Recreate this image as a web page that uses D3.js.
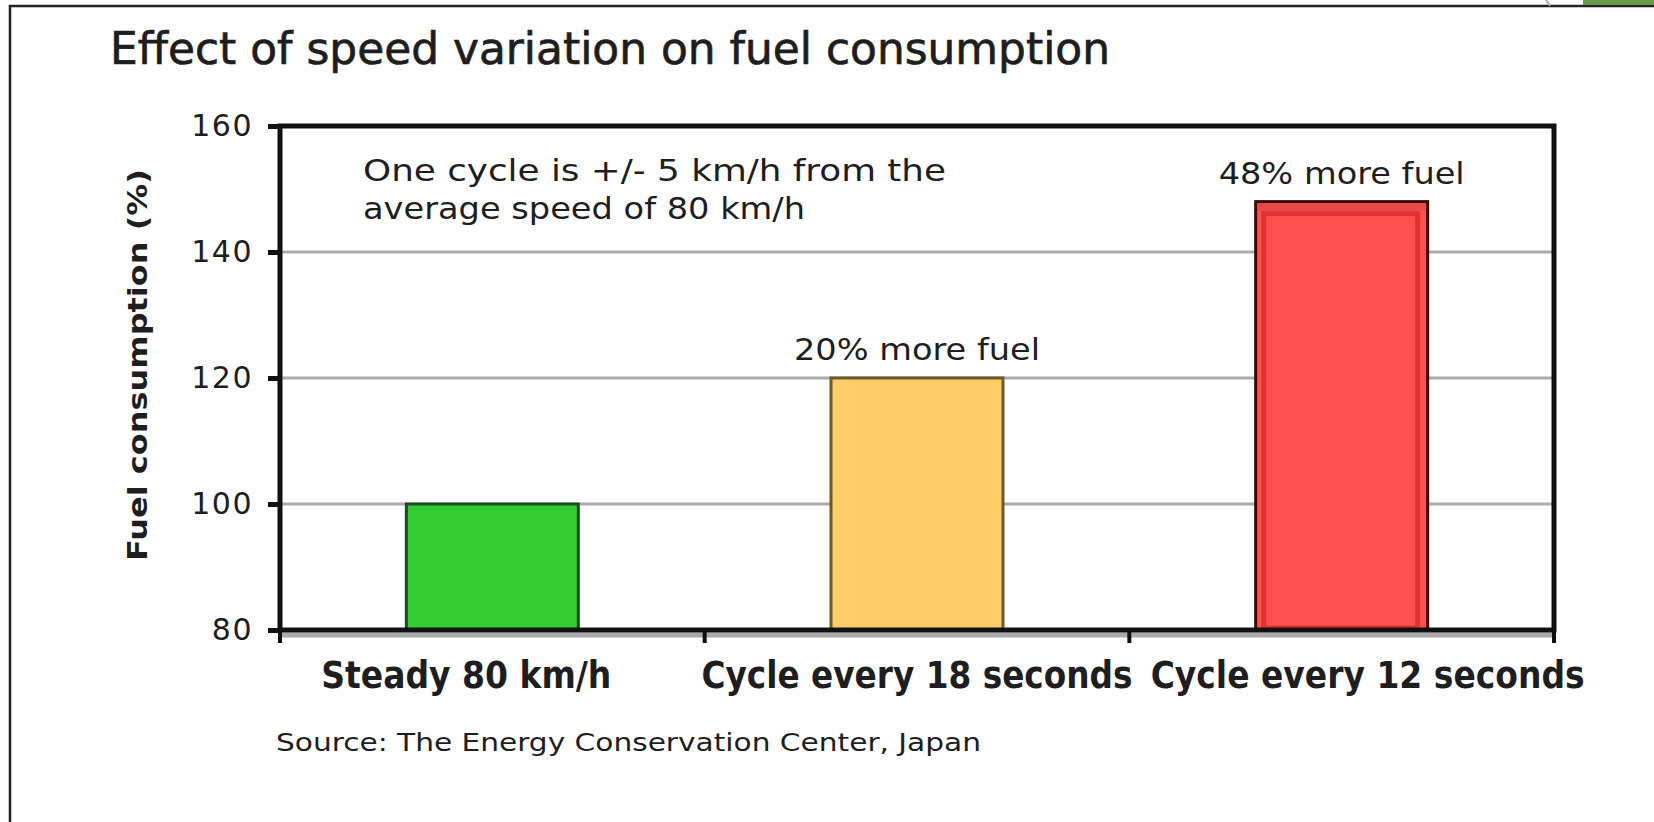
<!DOCTYPE html>
<html>
<head>
<meta charset="utf-8">
<script src="https://cdn.jsdelivr.net/npm/d3@7"></script>
<style>
  body { margin: 0; background: #fff; }
  svg { display: block; }
</style>
</head>
<body>
<script>
// Donnees du graphique
var categories = ['Steady 80 km/h', 'Cycle every 18 seconds', 'Cycle every 12 seconds']
var values = [100, 120, 148]
var barLabels = ['', '20% more fuel', '48% more fuel']
var yTicks = [80, 100, 120, 140, 160]
var noteLines = ['One cycle is +/- 5 km/h from the', 'average speed of 80 km/h']

// Couleurs et dimensions
var colours = {
    text: '#1e1e1e',
    grid: '#ababab',
    frame: '#111111',
    fills: ['#33cc33', '#ffcc66', '#ff5050'],
    strokes: ['#1f4a1f', '#6b5a2a', '#3a0808']
}

var width = 1654
var height = 822
var plot = { left: 280, right: 1554, top: 126, bottom: 630 }
var labelSpread = 26 // ecart des etiquettes de l'axe X

var svg = d3.select('body').append('svg')
    .attr('width', width)
    .attr('height', height)
    .attr('font-family', '"DejaVu Sans", Verdana, sans-serif')
    .attr('fill', colours.text)

// Echelles
var x = d3.scaleBand()
    .domain(categories)
    .range([plot.left, plot.right])
    .paddingInner(0.595)
    .paddingOuter(0.2975)

var y = d3.scaleLinear()
    .domain([80, 160])
    .range([plot.bottom, plot.top])

// Cadre de la page
svg.append('path')
    .attr('d', d3.line()([[10, height], [10, 6], [width, 6]]))
    .attr('fill', 'none')
    .attr('stroke', '#222')
    .attr('stroke-width', 2.5)

svg.append('path')
    .attr('d', 'M1583,0 L1654,0 L1654,5 L1583,5 Z')
    .attr('fill', '#6a9a4c')

svg.append('path')
    .attr('d', d3.line()([[1546, 0], [1550, 6]]))
    .attr('stroke', '#aaa')
    .attr('stroke-width', 2)

// Titre
svg.append('text')
    .attr('x', 110)
    .attr('y', 64)
    .attr('font-size', 44)
    .attr('stroke', colours.text)
    .attr('stroke-width', 0.7)
    .attr('textLength', 1000)
    .attr('lengthAdjust', 'spacingAndGlyphs')
    .text('Effect of speed variation on fuel consumption')

// Grille
svg.append('g')
    .selectAll('line')
    .data(yTicks)
    .join('line')
    .attr('x1', plot.left)
    .attr('x2', plot.right)
    .attr('y1', d => y(d) + (d === 80 ? 5 : 0))
    .attr('y2', d => y(d) + (d === 80 ? 5 : 0))
    .attr('stroke', colours.grid)
    .attr('stroke-width', d => d === 80 ? 5 : 3)

// Barres
var bars = svg.append('g')
    .selectAll('g')
    .data(categories)
    .join('g')

bars.append('rect')
    .attr('x', d => x(d))
    .attr('y', (d, i) => y(values[i]))
    .attr('width', x.bandwidth())
    .attr('height', (d, i) => y(80) - y(values[i]))
    .attr('fill', (d, i) => colours.fills[i])
    .attr('stroke', (d, i) => colours.strokes[i])
    .attr('stroke-width', 3)

// relief de la barre rouge
bars.filter((d, i) => i === 2)
    .append('rect')
    .attr('x', d => x(d) + 8)
    .attr('y', y(values[2]) + 12)
    .attr('width', x.bandwidth() - 18)
    .attr('height', y(80) - y(values[2]) - 14)
    .attr('fill', 'none')
    .attr('stroke', '#e23030')
    .attr('stroke-width', 5)

bars.filter((d, i) => i === 2)
    .append('rect')
    .attr('x', d => x(d) + 2)
    .attr('y', y(values[2]) + 2)
    .attr('width', x.bandwidth() - 4)
    .attr('height', 7)
    .attr('fill', '#e44a4a')

// Etiquettes des barres
bars.filter((d, i) => barLabels[i] !== '')
    .append('text')
    .attr('x', d => x(d) + x.bandwidth() / 2)
    .attr('y', (d, i) => y(values[i + 1]) - 18)
    .attr('text-anchor', 'middle')
    .attr('font-size', 31)
    .attr('textLength', 246)
    .attr('lengthAdjust', 'spacingAndGlyphs')
    .text((d, i) => barLabels[i + 1])

// Note
svg.append('g')
    .selectAll('text')
    .data(noteLines)
    .join('text')
    .attr('x', 363)
    .attr('y', (d, i) => 181 + i * 38)
    .attr('font-size', 31)
    .attr('textLength', (d, i) => [583, 442][i])
    .attr('lengthAdjust', 'spacingAndGlyphs')
    .text(d => d)

// Cadre du graphique
svg.append('rect')
    .attr('x', plot.left)
    .attr('y', plot.top)
    .attr('width', plot.right - plot.left)
    .attr('height', plot.bottom - plot.top)
    .attr('fill', 'none')
    .attr('stroke', colours.frame)
    .attr('stroke-width', 5)

// Axe Y
var yAxis = svg.append('g')
    .attr('transform', `translate(${plot.left},0)`)
    .call(d3.axisLeft(y).tickValues(yTicks).tickSize(12).tickPadding(15))

yAxis.select('.domain').remove()
yAxis.selectAll('.tick line')
    .attr('stroke', colours.frame)
    .attr('stroke-width', 5)
yAxis.selectAll('.tick text')
    .attr('font-family', '"DejaVu Sans", Verdana, sans-serif')
    .attr('font-size', 30)
    .attr('fill', colours.text)
    .attr('letter-spacing', 1.5)

// Axe X : ticks entre les categories
var bounds = [plot.left].concat(categories.map(d => x(d) + x.bandwidth() / 2 + x.step() / 2))

svg.append('g')
    .selectAll('line')
    .data(bounds)
    .join('line')
    .attr('x1', d => d)
    .attr('x2', d => d)
    .attr('y1', plot.bottom)
    .attr('y2', plot.bottom + 13)
    .attr('stroke', colours.frame)
    .attr('stroke-width', 4)

svg.append('g')
    .selectAll('text')
    .data(categories)
    .join('text')
    .attr('x', (d, i) => x(d) + x.bandwidth() / 2 + (i - 1) * labelSpread)
    .attr('y', 688)
    .attr('text-anchor', 'middle')
    .attr('font-family', '"Liberation Sans Narrow", "DejaVu Sans Condensed", sans-serif')
    .attr('font-weight', 'bold')
    .attr('font-size', 37)
    .attr('textLength', (d, i) => [290, 431, 434][i])
    .attr('lengthAdjust', 'spacingAndGlyphs')
    .text(d => d)

// Titre de l'axe Y
svg.append('text')
    .attr('transform', 'translate(147,365) rotate(-90)')
    .attr('text-anchor', 'middle')
    .attr('font-weight', 'bold')
    .attr('font-size', 26)
    .attr('textLength', 392)
    .attr('lengthAdjust', 'spacingAndGlyphs')
    .text('Fuel consumption (%)')

// Source
svg.append('text')
    .attr('x', 276)
    .attr('y', 751)
    .attr('font-family', '"Liberation Sans Narrow", "DejaVu Sans Condensed", sans-serif')
    .attr('font-size', 25)
    .attr('textLength', 705)
    .attr('lengthAdjust', 'spacingAndGlyphs')
    .text('Source: The Energy Conservation Center, Japan')
</script>
</body>
</html>
